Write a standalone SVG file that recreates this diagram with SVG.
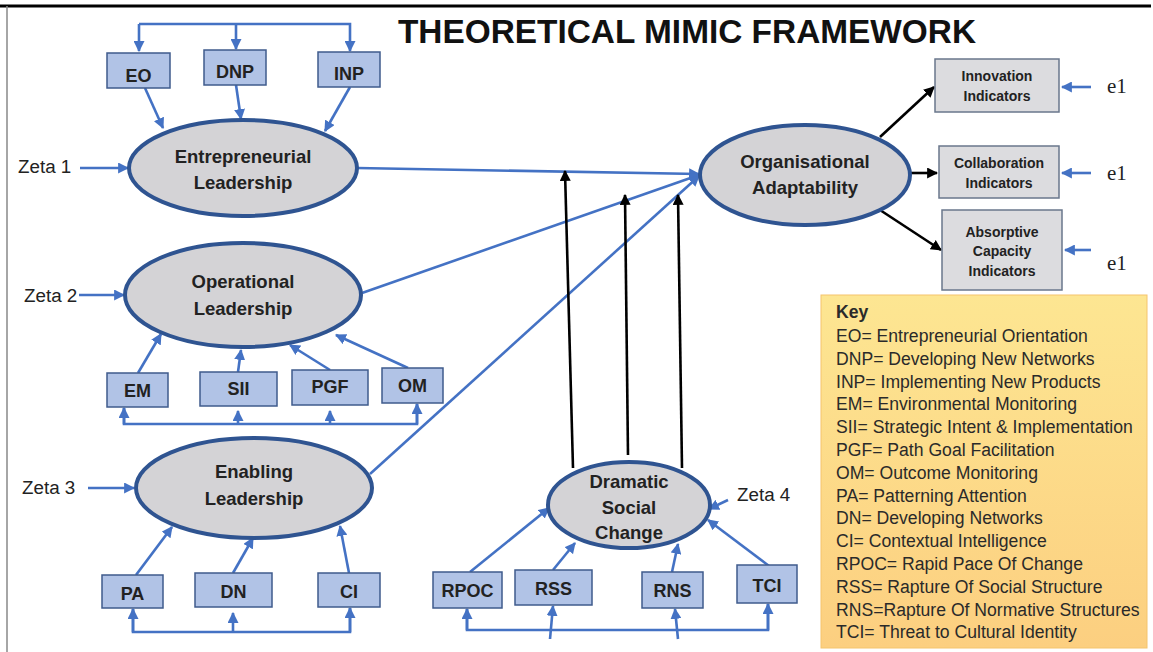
<svg xmlns="http://www.w3.org/2000/svg" width="1153" height="652" viewBox="0 0 1153 652">
<style>
.ell{fill:#d4d3d6;stroke:#2f5491;stroke-width:4}
.box{fill:#b1c3e6;stroke:#3f5b8c;stroke-width:1.5}
.gbox{fill:#dcdcdf;stroke:#6a778c;stroke-width:1.5}
.b{stroke:#4472c4;stroke-width:2.6;fill:none}
.k{stroke:#000;stroke-width:2.6;fill:none}
.t{font-family:"Liberation Sans",Arial,sans-serif;font-weight:bold;fill:#222;text-anchor:middle}
.et{font-size:18.5px}
.bt{font-size:18px}
.st{font-size:14px}
.z{font-family:"Liberation Sans",Arial,sans-serif;font-size:18.8px;fill:#222}
.e{font-family:"Liberation Serif","Times New Roman",serif;font-size:21px;fill:#222}
.key{font-family:"Liberation Sans",Arial,sans-serif;font-size:17.6px;fill:#2a2a2a}
</style>
<defs>
<marker id="ab" viewBox="0 0 10 10" refX="9" refY="5" markerWidth="11" markerHeight="11" markerUnits="userSpaceOnUse" orient="auto"><path d="M0,0 L10,5 L0,10 z" fill="#4472c4"/></marker>
<marker id="ak" viewBox="0 0 10 10" refX="9" refY="5" markerWidth="11" markerHeight="11" markerUnits="userSpaceOnUse" orient="auto"><path d="M0,0 L10,5 L0,10 z" fill="#000"/></marker>
<linearGradient id="kg" x1="0" y1="0" x2="0" y2="1"><stop offset="0" stop-color="#fde692"/><stop offset="1" stop-color="#fccf80"/></linearGradient>
</defs>
<rect x="0" y="0" width="1153" height="652" fill="#fff"/>
<line x1="0" y1="6" x2="1151" y2="6" stroke="#000" stroke-width="3"/>
<line x1="7" y1="6" x2="7" y2="652" stroke="#888" stroke-width="1.5"/>
<text x="687" y="43" font-family="Liberation Sans,Arial,sans-serif" font-weight="bold" font-size="33.4" fill="#111" text-anchor="middle">THEORETICAL MIMIC FRAMEWORK</text>

<g id="connectors">
<polyline class="b" points="139,24 350,24 350,51" marker-end="url(#ab)"/>
<polyline class="b" points="139,24 139,51" marker-end="url(#ab)"/>
<line class="b" x1="236" y1="24" x2="236" y2="49" marker-end="url(#ab)"/>
<line class="b" x1="145" y1="88" x2="163" y2="128" marker-end="url(#ab)"/>
<line class="b" x1="236" y1="85" x2="241" y2="119" marker-end="url(#ab)"/>
<line class="b" x1="350" y1="87" x2="325" y2="131" marker-end="url(#ab)"/>
<line class="b" x1="80" y1="168" x2="128" y2="168" marker-end="url(#ab)"/>
<line class="b" x1="79" y1="295" x2="124" y2="295" marker-end="url(#ab)"/>
<line class="b" x1="138" y1="373" x2="161" y2="334" marker-end="url(#ab)"/>
<line class="b" x1="238" y1="372" x2="241" y2="350" marker-end="url(#ab)"/>
<line class="b" x1="330" y1="370" x2="290" y2="345" marker-end="url(#ab)"/>
<line class="b" x1="408" y1="368" x2="336" y2="335" marker-end="url(#ab)"/>
<polyline class="b" points="124,408 124,424 417,424 417,404"/>
<line class="b" x1="124" y1="424" x2="124" y2="408" marker-end="url(#ab)"/>
<line class="b" x1="417" y1="424" x2="417" y2="404" marker-end="url(#ab)"/>
<line class="b" x1="238" y1="424" x2="238" y2="411" marker-end="url(#ab)"/>
<line class="b" x1="330" y1="424" x2="330" y2="411" marker-end="url(#ab)"/>
<line class="b" x1="88" y1="488" x2="134" y2="488" marker-end="url(#ab)"/>
<line class="b" x1="136" y1="575" x2="172" y2="527" marker-end="url(#ab)"/>
<line class="b" x1="233" y1="573" x2="253" y2="538" marker-end="url(#ab)"/>
<line class="b" x1="349" y1="573" x2="340" y2="526" marker-end="url(#ab)"/>
<polyline class="b" points="133,609 133,632 350,632 350,608"/>
<line class="b" x1="133" y1="632" x2="133" y2="609" marker-end="url(#ab)"/>
<line class="b" x1="350" y1="632" x2="350" y2="608" marker-end="url(#ab)"/>
<line class="b" x1="233" y1="632" x2="233" y2="613" marker-end="url(#ab)"/>
<line class="b" x1="728" y1="500" x2="709" y2="509" marker-end="url(#ab)"/>
<line class="b" x1="470" y1="572" x2="549" y2="508" marker-end="url(#ab)"/>
<line class="b" x1="553" y1="570" x2="575" y2="543" marker-end="url(#ab)"/>
<line class="b" x1="672" y1="572" x2="678" y2="544" marker-end="url(#ab)"/>
<line class="b" x1="769" y1="566" x2="708" y2="520" marker-end="url(#ab)"/>
<polyline class="b" points="467,609 467,630 768,630 768,604"/>
<line class="b" x1="467" y1="630" x2="467" y2="609" marker-end="url(#ab)"/>
<line class="b" x1="768" y1="630" x2="768" y2="604" marker-end="url(#ab)"/>
<line class="b" x1="550" y1="639" x2="553" y2="606" marker-end="url(#ab)"/>
<line class="b" x1="678" y1="639" x2="675" y2="609" marker-end="url(#ab)"/>
<line class="b" x1="357" y1="168" x2="699" y2="174" marker-end="url(#ab)"/>
<line class="b" x1="362" y1="293" x2="699" y2="175" marker-end="url(#ab)"/>
<line class="b" x1="370" y1="474" x2="699" y2="176" marker-end="url(#ab)"/>
<line class="k" x1="573" y1="468" x2="565" y2="171" marker-end="url(#ak)"/>
<line class="k" x1="628" y1="455" x2="625" y2="195" marker-end="url(#ak)"/>
<line class="k" x1="682" y1="468" x2="678" y2="195" marker-end="url(#ak)"/>
<line class="k" x1="880" y1="137" x2="934" y2="87" marker-end="url(#ak)"/>
<line class="k" x1="910" y1="173" x2="937" y2="173" marker-end="url(#ak)"/>
<line class="k" x1="880" y1="210" x2="941" y2="250" marker-end="url(#ak)"/>
<line class="b" x1="1091" y1="87" x2="1062" y2="87" marker-end="url(#ab)"/>
<line class="b" x1="1091" y1="173" x2="1062" y2="173" marker-end="url(#ab)"/>
<line class="b" x1="1091" y1="250" x2="1065" y2="250" marker-end="url(#ab)"/>
</g>

<g id="EO"><rect class="box" x="107" y="53" width="63" height="35"/><text class="t bt" x="138.5" y="82">EO</text></g>
<g id="DNP"><rect class="box" x="204" y="50" width="62" height="35"/><text class="t bt" x="235" y="78">DNP</text></g>
<g id="INP"><rect class="box" x="318" y="52" width="62" height="35"/><text class="t bt" x="349" y="80">INP</text></g>
<g id="EL"><ellipse class="ell" cx="243" cy="168" rx="114" ry="48"/><text class="t et" x="243" y="163">Entrepreneurial</text><text class="t et" x="243" y="189">Leadership</text></g>
<g id="zeta1"><text class="z" x="18" y="173">Zeta 1</text></g>

<g id="OL"><ellipse class="ell" cx="243" cy="295" rx="118" ry="52"/><text class="t et" x="243" y="288">Operational</text><text class="t et" x="243" y="315">Leadership</text></g>
<g id="zeta2"><text class="z" x="24" y="302">Zeta 2</text></g>
<g id="EM"><rect class="box" x="107" y="373" width="61" height="34"/><text class="t bt" x="137.5" y="397">EM</text></g>
<g id="SII"><rect class="box" x="200" y="372" width="77" height="34"/><text class="t bt" x="238.5" y="395">SII</text></g>
<g id="PGF"><rect class="box" x="292" y="370" width="76" height="35"/><text class="t bt" x="330" y="393">PGF</text></g>
<g id="OM"><rect class="box" x="382" y="368" width="61" height="35"/><text class="t bt" x="412.5" y="392">OM</text></g>

<g id="NL"><ellipse class="ell" cx="254" cy="488" rx="118" ry="50"/><text class="t et" x="254" y="478">Enabling</text><text class="t et" x="254" y="505">Leadership</text></g>
<g id="zeta3"><text class="z" x="22" y="494">Zeta 3</text></g>
<g id="PA"><rect class="box" x="102" y="575" width="61" height="33"/><text class="t bt" x="132.5" y="600">PA</text></g>
<g id="DN"><rect class="box" x="195" y="573" width="77" height="34"/><text class="t bt" x="233.5" y="598">DN</text></g>
<g id="CI"><rect class="box" x="318" y="573" width="62" height="34"/><text class="t bt" x="349" y="598">CI</text></g>

<g id="DSC"><ellipse class="ell" cx="629" cy="505" rx="81" ry="43"/><text class="t et" x="629" y="488">Dramatic</text><text class="t et" x="629" y="514">Social</text><text class="t et" x="629" y="539">Change</text></g>
<g id="zeta4"><text class="z" x="737" y="501">Zeta 4</text></g>
<g id="RPOC"><rect class="box" x="433" y="572" width="69" height="36"/><text class="t bt" x="467.5" y="597">RPOC</text></g>
<g id="RSS"><rect class="box" x="515" y="570" width="77" height="35"/><text class="t bt" x="553.5" y="595">RSS</text></g>
<g id="RNS"><rect class="box" x="642" y="572" width="61" height="36"/><text class="t bt" x="672.5" y="597">RNS</text></g>
<g id="TCI"><rect class="box" x="737" y="565" width="60" height="38"/><text class="t bt" x="767" y="592">TCI</text></g>

<g id="OA"><ellipse class="ell" cx="805" cy="175" rx="105" ry="50"/><text class="t et" x="805" y="168">Organisational</text><text class="t et" x="805" y="194">Adaptability</text></g>
<g id="INNOV"><rect class="gbox" x="935" y="59" width="124" height="53"/><text class="t st" x="997" y="81">Innovation</text><text class="t st" x="997" y="101">Indicators</text></g>
<g id="COLLAB"><rect class="gbox" x="939" y="146" width="120" height="52"/><text class="t st" x="999" y="168">Collaboration</text><text class="t st" x="999" y="188">Indicators</text></g>
<g id="ABSORB"><rect class="gbox" x="942" y="210" width="120" height="80"/><text class="t st" x="1002" y="237">Absorptive</text><text class="t st" x="1002" y="256">Capacity</text><text class="t st" x="1002" y="276">Indicators</text></g>
<g id="e1a"><text class="e" x="1107" y="93">e1</text></g>
<g id="e1b"><text class="e" x="1107" y="180">e1</text></g>
<g id="e1c"><text class="e" x="1107" y="270">e1</text></g>

<g id="KEY">
<rect x="821" y="295" width="326" height="353" fill="url(#kg)" stroke="#f5c46c" stroke-width="1"/>
<text class="key" x="836" y="318" font-weight="bold">Key</text>
<text class="key" x="836" y="342">EO= Entrepreneurial Orientation</text>
<text class="key" x="836" y="364.8">DNP= Developing New Networks</text>
<text class="key" x="836" y="387.6">INP= Implementing New Products</text>
<text class="key" x="836" y="410.4">EM= Environmental Monitoring</text>
<text class="key" x="836" y="433.2">SII= Strategic Intent &amp; Implementation</text>
<text class="key" x="836" y="456">PGF= Path Goal Facilitation</text>
<text class="key" x="836" y="478.8">OM= Outcome Monitoring</text>
<text class="key" x="836" y="501.6">PA= Patterning Attention</text>
<text class="key" x="836" y="524.4">DN= Developing Networks</text>
<text class="key" x="836" y="547.2">CI= Contextual Intelligence</text>
<text class="key" x="836" y="570">RPOC= Rapid Pace Of Change</text>
<text class="key" x="836" y="592.8">RSS= Rapture Of Social Structure</text>
<text class="key" x="836" y="615.6">RNS=Rapture Of Normative Structures</text>
<text class="key" x="836" y="638.4">TCI= Threat to Cultural Identity</text>
</g>
</svg>
